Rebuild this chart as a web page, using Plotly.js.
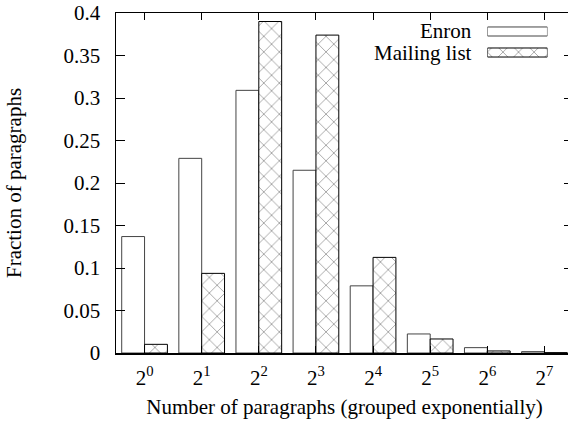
<!DOCTYPE html>
<html>
<head>
<meta charset="utf-8">
<script src="https://cdn.plot.ly/plotly-3.0.1.min.js"></script>
<style>
html,body{margin:0;padding:0;overflow:hidden;background:#fff;width:568px;height:422px}
#chart{width:573px;height:422px}
</style>
</head>
<body>
<div id="chart"></div>
<script>
const categories = ['2<sup>0</sup>','2<sup>1</sup>','2<sup>2</sup>','2<sup>3</sup>','2<sup>4</sup>','2<sup>5</sup>','2<sup>6</sup>','2<sup>7</sup>'];
const enron = [0.137, 0.229, 0.309, 0.215, 0.079, 0.0224, 0.0063, 0.0016];
const mailingList = [0.0102, 0.0937, 0.390, 0.374, 0.1125, 0.0165, 0.0024, 0.0004];
const seriesNames = ['Enron', 'Mailing list'];
const legendSwatch = [1, 1];

const FONT = '"Liberation Serif", "Times New Roman", serif';
const FS = 21;

const traces = [
  {
    type: 'bar', name: seriesNames[0], x: categories, y: enron,
    marker: {color: '#ffffff', line: {color: '#444444', width: 1}},
    showlegend: false, hoverinfo: 'skip'
  },
  {
    type: 'bar', name: seriesNames[1], x: categories, y: mailingList,
    marker: {color: '#ffffff', line: {color: '#000000', width: 1},
      pattern: {shape: 'x', fgcolor: '#000000', bgcolor: '#ffffff', size: 11, solidity: 0.06}},
    showlegend: false, hoverinfo: 'skip'
  },
  {
    type: 'bar', orientation: 'h', x: [legendSwatch[0]], y: [seriesNames[0]], width: 0.43,
    xaxis: 'x2', yaxis: 'y2',
    marker: {color: '#ffffff', line: {color: '#444444', width: 1}},
    showlegend: false, hoverinfo: 'skip'
  },
  {
    type: 'bar', orientation: 'h', x: [legendSwatch[1]], y: [seriesNames[1]], width: 0.43,
    xaxis: 'x2', yaxis: 'y2',
    marker: {color: '#ffffff', line: {color: '#000000', width: 1},
      pattern: {shape: 'x', fgcolor: '#000000', bgcolor: '#ffffff', size: 11, solidity: 0.06}},
    showlegend: false, hoverinfo: 'skip'
  }
];

const layout = {
  width: 573, height: 422,
  margin: {l: 116, r: 0, t: 13, b: 69, pad: 0},
  paper_bgcolor: '#ffffff', plot_bgcolor: '#ffffff',
  font: {family: FONT, size: FS, color: '#000000'},
  barmode: 'group', bargap: 0.2, bargroupgap: 0,
  showlegend: false,
  xaxis: {
    type: 'category', range: [-0.5, 7.5],
    showline: true, linecolor: '#000000', linewidth: 1.5, mirror: 'ticks',
    ticks: 'inside', ticklen: 7, tickcolor: '#000000', tickwidth: 1,
    showgrid: false, zeroline: false,
    tickfont: {family: FONT, size: FS}, ticklabelstandoff: 5,
    title: {text: 'Number of paragraphs (grouped exponentially)', font: {family: FONT, size: FS}, standoff: 10}
  },
  yaxis: {
    range: [0, 0.4], dtick: 0.05, tick0: 0,
    showline: true, linecolor: '#000000', linewidth: 1.5, mirror: 'ticks',
    ticks: 'inside', ticklen: 9, tickcolor: '#000000', tickwidth: 1,
    showgrid: false, zeroline: false,
    tickfont: {family: FONT, size: FS}, ticklabelstandoff: 10,
    title: {text: 'Fraction of paragraphs', font: {family: FONT, size: FS}, standoff: 36}
  },
  xaxis2: {domain: [0.8127, 0.9441], anchor: 'y2', range: [0, 1], visible: false, fixedrange: true},
  yaxis2: {domain: [0.8529, 0.9765], anchor: 'x2', type: 'category',
    categoryorder: 'array', categoryarray: [seriesNames[1], seriesNames[0]],
    range: [-0.5, 1.5], visible: false, fixedrange: true},
  annotations: [
    {xref: 'paper', yref: 'paper', x: 0.7842, y: 0.9456, xanchor: 'right', yanchor: 'middle',
     text: seriesNames[0], showarrow: false, font: {family: FONT, size: FS}},
    {xref: 'paper', yref: 'paper', x: 0.7842, y: 0.8838, xanchor: 'right', yanchor: 'middle',
     text: seriesNames[1], showarrow: false, font: {family: FONT, size: FS}}
  ]
};

Plotly.newPlot('chart', traces, layout, {staticPlot: true, displayModeBar: false});
</script>
</body>
</html>
